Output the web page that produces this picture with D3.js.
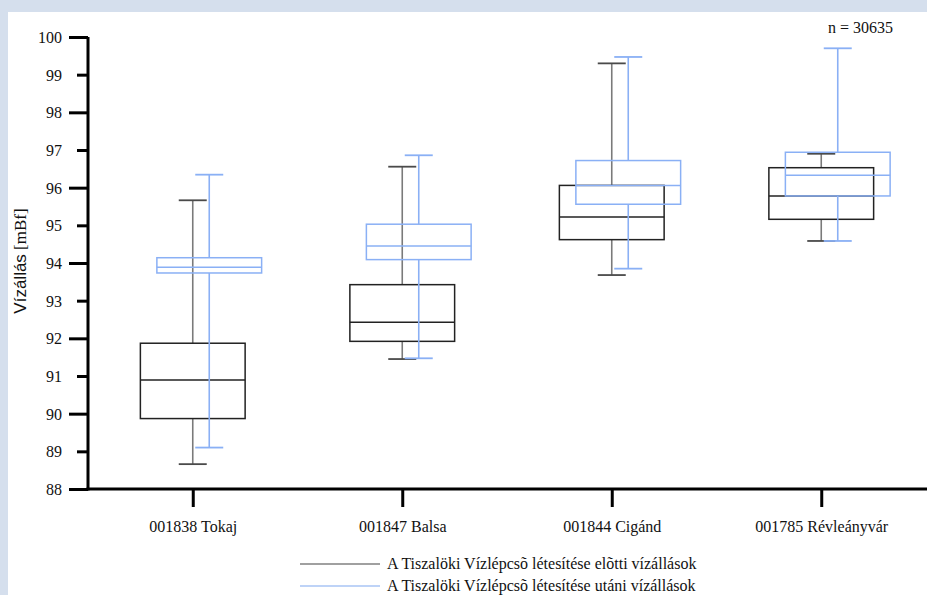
<!DOCTYPE html>
<html>
<head>
<meta charset="utf-8">
<script src="https://cdn.jsdelivr.net/npm/d3@7"></script>
<style>
  html, body { margin: 0; padding: 0; background: #d5dfed; }
  svg { display: block; }
</style>
</head>
<body>
<svg id="chart" width="927" height="595"></svg>
<script>
// ---- data ----
const categories = ["001838 Tokaj", "001847 Balsa", "001844 Cigánd", "001785 Révleányvár"];
const seriesNames = [
  "A Tiszalöki Vízlépcsõ létesítése elõtti vízállások",
  "A Tiszalöki Vízlépcsõ létesítése utáni vízállások"
];
// before (elõtti)
const beforeMin = [88.66, 91.45, 93.68, 94.585];
const beforeQ1  = [89.87, 91.92, 94.62, 95.16];
const beforeMed = [90.895, 92.425, 95.22, 95.78];
const beforeQ3  = [91.87, 93.425, 96.06, 96.53];
const beforeMax = [95.665, 96.557, 99.30, 96.90];
// after (utáni)
const afterMin = [89.10, 91.47, 93.85, 94.585];
const afterQ1  = [93.735, 94.09, 95.56, 95.78];
const afterMed = [93.89, 94.45, 96.06, 96.33];
const afterQ3  = [94.14, 95.03, 96.72, 96.94];
const afterMax = [96.345, 96.86, 99.47, 99.70];
const yTicks = [88, 89, 90, 91, 92, 93, 94, 95, 96, 97, 98, 99, 100];
const nLabel = "n = 30635";
const yTitleMain = "Vízállás";
const yTitleUnit = " [mBf]";

// ---- layout ----
const svg = d3.select("#chart");
const serif = "'Liberation Serif', 'Times New Roman', serif";
const sans = "'Liberation Sans', Arial, sans-serif";

svg.append("rect").attr("x", 8).attr("y", 12).attr("width", 919).attr("height", 583).attr("fill", "#ffffff");

const x = d3.scalePoint().domain(categories).range([88, 926]).padding(0.5);
const y = d3.scaleLinear().domain([88, 100]).range([489, 37]);

const boxW = x.step() * 0.5;
const capW = 28;
const colors = { before: { box: "#222222", whisk: "#7a7a7a", cap: "#4a4a4a", legend: "#808080" },
                 after:  { box: "#8ab0f5", whisk: "#8ab0f5", cap: "#8ab0f5", legend: "#a9c4f5" } };
const offsets = [0, 16.5];

const series = [
  { key: "before", min: beforeMin, q1: beforeQ1, med: beforeMed, q3: beforeQ3, max: beforeMax },
  { key: "after",  min: afterMin,  q1: afterQ1,  med: afterMed,  q3: afterQ3,  max: afterMax }
];

// ---- axes ----
const yAxis = svg.append("g").attr("transform", "translate(88,0)")
  .call(d3.axisLeft(y).tickValues(yTicks).tickSize(0).tickPadding(26).tickFormat(d3.format("d")));
yAxis.select(".domain").remove();
yAxis.selectAll(".tick text").attr("font-family", serif).attr("font-size", 16).attr("fill", "#111")
  .attr("dy", "0.34em");
yAxis.selectAll(".tick").append("line")
  .attr("x1", d => (d % 2 === 0 ? -19 : -11)).attr("x2", 0)
  .attr("stroke", "#000").attr("stroke-width", 3);

const xAxis = svg.append("g").attr("transform", "translate(0,489)")
  .call(d3.axisBottom(x).tickSize(18).tickPadding(14));
xAxis.select(".domain").remove();
xAxis.selectAll(".tick line").attr("stroke", "#000").attr("stroke-width", 3);
xAxis.selectAll(".tick text").attr("font-family", serif).attr("font-size", 16).attr("fill", "#111");

svg.append("line").attr("x1", 88).attr("x2", 88).attr("y1", y(100)).attr("y2", y(88) + 1.5)
  .attr("stroke", "#000").attr("stroke-width", 3);
svg.append("line").attr("x1", 86.5).attr("x2", 927).attr("y1", y(88)).attr("y2", y(88))
  .attr("stroke", "#000").attr("stroke-width", 3);

// ---- y title ----
const yt = svg.append("text")
  .attr("transform", "translate(26,261) rotate(-90)")
  .attr("text-anchor", "middle").attr("font-size", 17).attr("fill", "#111");
yt.append("tspan").attr("font-family", sans).text(yTitleMain);
yt.append("tspan").attr("font-family", serif).text(yTitleUnit);

// ---- n label ----
svg.append("text").attr("x", 828).attr("y", 33).attr("font-family", serif).attr("font-size", 16)
  .attr("fill", "#111").text(nLabel);

// ---- boxes ----
series.forEach((s, si) => {
  const c = colors[s.key];
  const g = svg.append("g");
  categories.forEach((cat, i) => {
    const cx = x(cat) + offsets[si];
    g.append("line").attr("x1", cx).attr("x2", cx).attr("y1", y(s.max[i])).attr("y2", y(s.q3[i]))
      .attr("stroke", c.whisk).attr("stroke-width", 1.6);
    g.append("line").attr("x1", cx).attr("x2", cx).attr("y1", y(s.q1[i])).attr("y2", y(s.min[i]))
      .attr("stroke", c.whisk).attr("stroke-width", 1.6);
    g.append("line").attr("x1", cx - capW / 2).attr("x2", cx + capW / 2)
      .attr("y1", y(s.max[i])).attr("y2", y(s.max[i]))
      .attr("stroke", c.cap).attr("stroke-width", 1.8);
    g.append("line").attr("x1", cx - capW / 2).attr("x2", cx + capW / 2)
      .attr("y1", y(s.min[i])).attr("y2", y(s.min[i]))
      .attr("stroke", c.cap).attr("stroke-width", 1.8);
    g.append("rect")
      .attr("x", cx - boxW / 2).attr("y", y(s.q3[i]))
      .attr("width", boxW).attr("height", y(s.q1[i]) - y(s.q3[i]))
      .attr("fill", "none").attr("stroke", c.box).attr("stroke-width", 1.5);
    g.append("line").attr("x1", cx - boxW / 2).attr("x2", cx + boxW / 2)
      .attr("y1", y(s.med[i])).attr("y2", y(s.med[i]))
      .attr("stroke", c.box).attr("stroke-width", 1.5);
  });
});

// ---- legend ----
const leg = svg.append("g").attr("transform", "translate(300,564)");
seriesNames.forEach((name, i) => {
  const key = series[i].key;
  const row = leg.append("g").attr("transform", `translate(0,${i * 22})`);
  row.append("line").attr("x1", 0).attr("x2", 80).attr("y1", 0).attr("y2", 0)
    .attr("stroke", colors[key].legend).attr("stroke-width", 1.5);
  row.append("text").attr("x", 87).attr("y", 0).attr("dy", "0.32em")
    .attr("font-family", serif).attr("font-size", 16).attr("fill", "#111").text(name);
});
</script>
</body>
</html>
